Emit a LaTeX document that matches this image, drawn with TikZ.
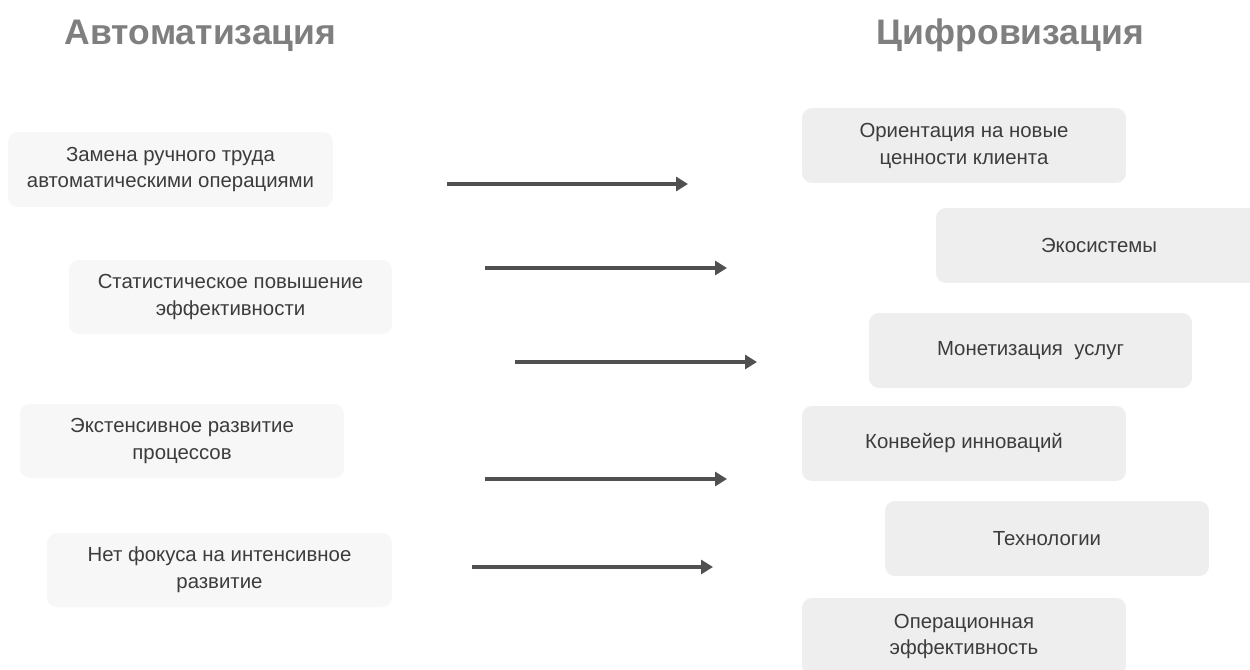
\documentclass[tikz,border=0pt]{standalone}
\usepackage{fontspec}
\setmainfont{Liberation Sans}
\usetikzlibrary{arrows.meta}
\definecolor{txt}{HTML}{3C3C3C}
\definecolor{ttl}{HTML}{7F7F7F}
\definecolor{arrc}{HTML}{505050}
\definecolor{lfill}{HTML}{F7F7F7}
\definecolor{rfill}{HTML}{EEEEEE}
\tikzset{
  boxbase/.style={rectangle, rounded corners=0.2cm, align=center, text=txt,
    font=\fontsize{11.6}{15.3}\selectfont, inner sep=0pt},
  lbox/.style={boxbase, fill=lfill},
  rbox/.style={boxbase, fill=rfill},
  ttlnode/.style={text=ttl, font=\fontsize{20.2}{24}\selectfont\bfseries, inner sep=0pt, anchor=base},
  arr/.style={draw=arrc, line width=2.2pt, -{Triangle[length=0.24cm,width=0.28cm]}}
}
\begin{document}
\begin{tikzpicture}[x=0.02cm,y=-0.02cm]
\useasboundingbox (0,0) rectangle (1250,669);
\clip (0,0) rectangle (1250,669);
\fill[white] (0,0) rectangle (1250,669);
% titles
\node[ttlnode] (t1) at (200.5,45) {Автоматизация};
\node[ttlnode] (t2) at (1010.5,45) {Цифровизация};
% left boxes
\node[lbox, minimum width=6.5cm, minimum height=1.5cm] (l1) at (170.5,169.5) {Замена ручного труда\\автоматическими операциями};
\node[lbox, minimum width=6.46cm, minimum height=1.48cm] (l2) at (230.5,297) {Статистическое повышение\\эффективности};
\node[lbox, minimum width=6.48cm, minimum height=1.48cm] (l3) at (182,441) {Экстенсивное развитие\\процессов};
\node[lbox, minimum width=6.9cm, minimum height=1.48cm] (l4) at (219.5,570) {Нет фокуса на интенсивное\\развитие};
% right boxes
\node[rbox, minimum width=6.48cm, minimum height=1.5cm] (r1) at (964,145.5) {Ориентация на новые\\ценности клиента};
\node[rbox, minimum width=6.52cm, minimum height=1.5cm] (r2) at (1099,245.5) {Экосистемы};
\node[rbox, minimum width=6.46cm, minimum height=1.5cm] (r3) at (1030.5,350.5) {Монетизация\ \ услуг};
\node[rbox, minimum width=6.48cm, minimum height=1.5cm] (r4) at (964,443.5) {Конвейер инноваций};
\node[rbox, minimum width=6.48cm, minimum height=1.5cm] (r5) at (1047,538.5) {Технологии};
\node[rbox, minimum width=6.48cm, minimum height=1.54cm] (r6) at (964,636.5) {Операционная\\эффективность};
% arrows
\coordinate (a1s) at (447,184); \coordinate (a1e) at (688,184);
\coordinate (a2s) at (485,268); \coordinate (a2e) at (727,268);
\coordinate (a3s) at (515,362); \coordinate (a3e) at (757,362);
\coordinate (a4s) at (485,479); \coordinate (a4e) at (727,479);
\coordinate (a5s) at (472,567); \coordinate (a5e) at (713,567);
\draw[arr] (a1s) -- (a1e);
\draw[arr] (a2s) -- (a2e);
\draw[arr] (a3s) -- (a3e);
\draw[arr] (a4s) -- (a4e);
\draw[arr] (a5s) -- (a5e);
\end{tikzpicture}
\end{document}
